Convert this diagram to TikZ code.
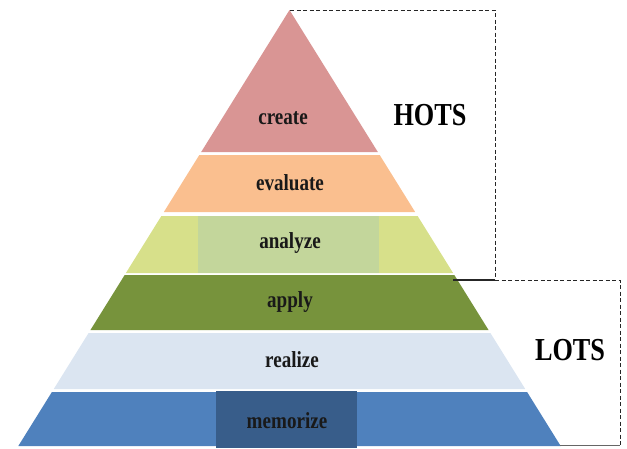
\documentclass[tikz,border=0pt]{standalone}
\usepackage{fontspec}
\setmainfont{Liberation Serif}
\usepackage{graphicx}
\usetikzlibrary{positioning,calc}
\newcommand{\cond}[1]{\scalebox{0.83}[1]{#1}}
\newcommand{\wide}[1]{\scalebox{0.82}[1]{#1}}
\definecolor{createc}{HTML}{D99594}
\definecolor{evalc}{HTML}{FABF8F}
\definecolor{anaside}{HTML}{D7E08A}
\definecolor{anamid}{HTML}{C3D69B}
\definecolor{applyc}{HTML}{77933C}
\definecolor{realc}{HTML}{DBE5F1}
\definecolor{memc}{HTML}{4F81BD}
\definecolor{memmid}{HTML}{385D8A}

\begin{document}
\begin{tikzpicture}[x=1pt,y=-1pt,
      lvl/.style={font=\bfseries\fontsize{23}{23}\selectfont, text=black!90},
      big/.style={font=\bfseries\fontsize{32}{32}\selectfont},
      bracket/.style={draw=black!85, line width=1pt, dash pattern=on 4pt off 2.5pt}]
     \useasboundingbox (0,0) rectangle (627,448);
     % bands of the pyramid
     \foreach \t/\b/\col in {10/152/createc, 155/212/evalc, 216/273/anaside,
                             275/330/applyc, 333/389/realc, 392/446/memc}
       \fill[\col] ({289.5-0.622*(\t-10)},\t) -- ({289.5+0.622*(\t-10)},\t)
                -- ({289.5+0.622*(\b-10)},\b) -- ({289.5-0.622*(\b-10)},\b) -- cycle;
     \fill[anamid] (198,216) rectangle (379,273);
     \fill[memmid] (216,391) rectangle (357,448);
     % labels
     \node[lvl] (create) at (283,118) {\cond{create}};
     \node[lvl] (evaluate) at (290,183) {\cond{evaluate}};
     \node[lvl] (analyze) at (290,243) {\cond{analyze}};
     \node[lvl] (apply) at (290,302) {\cond{apply}};
     \node[lvl] (realize) at (292,360) {\cond{realize}};
     \node[lvl] (memorize) at (287,421) {\cond{memorize}};
     \node[big] (hots) at (430,115) {\wide{HOTS}};
     \node[big] (lots) at (570,350) {\wide{LOTS}};
     % brackets
     \coordinate (apex) at (290,10);
     \coordinate (hotsTR) at (495,10);
     \coordinate (hotsBR) at (495,280);
     \coordinate (applyR) at (453,280);
     \coordinate (lotsTR) at (620,280);
     \coordinate (lotsBR) at (620,445);
     \coordinate (baseR) at (560,445);
     \draw[bracket] (apex) -- (hotsTR) -- (hotsBR);
     \draw[black!85, line width=1.2pt] (applyR) -- (hotsBR);
     \draw[bracket] (hotsBR) -- (lotsTR) -- (lotsBR);
     \draw[black!60, line width=0.9pt] (baseR) -- (lotsBR);
\end{tikzpicture}
\end{document}
